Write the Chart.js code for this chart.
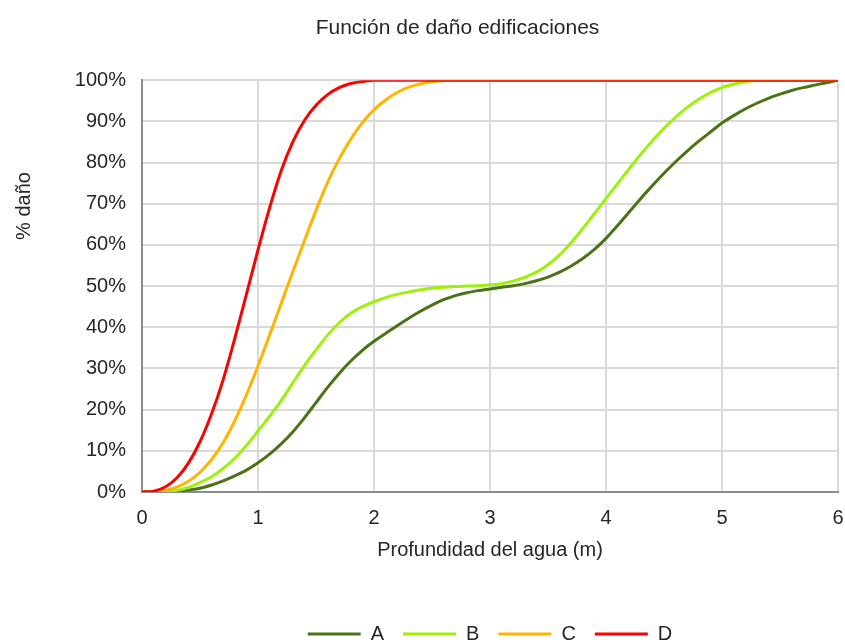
<!DOCTYPE html>
<html>
<head>
<meta charset="utf-8">
<script src="https://cdn.jsdelivr.net/npm/chart.js@4.4.0/dist/chart.umd.min.js"></script>
<style>
html, body { margin: 0; padding: 0; background: #fff; }
</style>
</head>
<body>
<canvas id="myChart" width="845" height="642"></canvas>
<script>
// profundidad (m), every 0.1 m
const depth = [
	0, 0.1, 0.2, 0.3, 0.4, 0.5, 0.6, 0.7, 0.8, 0.9,
	1, 1.1, 1.2, 1.3, 1.4, 1.5, 1.6, 1.7, 1.8, 1.9,
	2, 2.1, 2.2, 2.3, 2.4, 2.5, 2.6, 2.7, 2.8, 2.9,
	3, 3.1, 3.2, 3.3, 3.4, 3.5, 3.6, 3.7, 3.8, 3.9,
	4, 4.1, 4.2, 4.3, 4.4, 4.5, 4.6, 4.7, 4.8, 4.9,
	5, 5.1, 5.2, 5.3, 5.4, 5.5, 5.6, 5.7, 5.8, 5.9,
	6,
];

// % daño
const curveA = [
	0, 0, 0, 0.2, 0.5, 0.9, 1.7, 2.7, 3.9, 5.3,
	7.1, 9.2, 11.7, 14.6, 18, 21.7, 25.4, 28.8, 31.8, 34.4,
	36.6, 38.5, 40.4, 42.2, 43.9, 45.4, 46.7, 47.7, 48.4, 48.9,
	49.3, 49.7, 50.1, 50.6, 51.3, 52.2, 53.4, 54.9, 56.7, 58.9,
	61.6, 64.7, 68, 71.3, 74.4, 77.4, 80.2, 82.8, 85.2, 87.4,
	89.6, 91.4, 93, 94.4, 95.6, 96.6, 97.5, 98.2, 98.8, 99.4,
	100,
];
const curveB = [
	0, 0, 0.1, 0.4, 1.1, 2.3, 3.7, 5.7, 8.2, 11.3,
	14.8, 18.4, 22.2, 26.5, 30.7, 34.5, 38.1, 41.1, 43.4, 45,
	46.2, 47.2, 48, 48.6, 49.1, 49.5, 49.7, 49.9, 50, 50.1,
	50.3, 50.6, 51.2, 52.1, 53.4, 55.2, 57.6, 60.6, 64, 67.6,
	71.2, 74.9, 78.5, 82, 85.3, 88.3, 91, 93.4, 95.4, 97,
	98.2, 99, 99.6, 99.9, 100, 100, 100, 100, 100, 100,
	100,
];
const curveC = [
	0, 0, 0.4, 1.2, 2.6, 4.8, 7.9, 12, 17.3, 23.6,
	30.6, 38.1, 45.8, 53.5, 61, 68.4, 75.2, 80.9, 85.7, 89.7,
	92.8, 95.2, 97, 98.3, 99.1, 99.6, 99.9, 100, 100, 100,
	100, 100, 100, 100, 100, 100, 100, 100, 100, 100,
	100, 100, 100, 100, 100, 100, 100, 100, 100, 100,
	100, 100, 100, 100, 100, 100, 100, 100, 100, 100,
	100,
];
const curveD = [
	0, 0.2, 1.2, 3.4, 7, 12.2, 19, 27.3, 37.3, 48,
	58.8, 69, 78, 85, 90.2, 93.9, 96.5, 98.2, 99.2, 99.7,
	100, 100, 100, 100, 100, 100, 100, 100, 100, 100,
	100, 100, 100, 100, 100, 100, 100, 100, 100, 100,
	100, 100, 100, 100, 100, 100, 100, 100, 100, 100,
	100, 100, 100, 100, 100, 100, 100, 100, 100, 100,
	100,
];

const seriesNames = ["A", "B", "C", "D"];
const seriesColors = ["#4a7318", "#9cf20a", "#ffb400", "#ff0000"];
const seriesData = [curveA, curveB, curveC, curveD];

const font = '"Liberation Sans", Arial, sans-serif';
const textColor = "#262626";

const datasets = seriesData.map((vals, i) => ({
	label: seriesNames[i],
	data: depth.map((d, j) => ({ x: d, y: vals[j] })),
	borderColor: seriesColors[i],
	backgroundColor: seriesColors[i],
	borderWidth: 3,
	pointRadius: 0,
	cubicInterpolationMode: "monotone",
	order: 4 - i,
}));

// y axis title sits above the middle in the original
const yTitle = {
	id: "yTitle",
	afterDraw(chart) {
		const ctx = chart.ctx;
		ctx.save();
		ctx.translate(24, 206);
		ctx.rotate(-Math.PI / 2);
		ctx.font = "20px " + font;
		ctx.fillStyle = textColor;
		ctx.textAlign = "center";
		ctx.textBaseline = "middle";
		ctx.fillText("% daño", 0, 0);
		ctx.restore();
	},
};

const config = {
	type: "line",
	data: { datasets },
	options: {
		responsive: false,
		animation: false,
		layout: { padding: { left: 70, right: 0, top: 0, bottom: -12 } },
		plugins: {
			title: {
				display: true,
				text: "Función de daño edificaciones",
				color: textColor,
				font: { family: font, size: 21, weight: "normal" },
				padding: { top: 16, bottom: 39 },
			},
			legend: {
				position: "bottom",
				fullSize: false,
				labels: {
					usePointStyle: true,
					pointStyle: "line",
					pointStyleWidth: 53,
					padding: 19,
					color: textColor,
					font: { family: font, size: 20 },
					sort: (a, b) => a.datasetIndex - b.datasetIndex,
				},
			},
			tooltip: { enabled: false },
		},
		scales: {
			x: {
				type: "linear",
				min: 0,
				max: 6,
				afterFit: (scale) => { scale.paddingRight = 7; },
				ticks: {
					stepSize: 1,
					padding: 14,
					color: textColor,
					font: { family: font, size: 20 },
				},
				grid: { color: "#d9d9d9", lineWidth: 2, drawTicks: false },
				border: { color: "#8c8c8c", width: 2 },
				title: {
					display: true,
					text: "Profundidad del agua (m)",
					color: textColor,
					font: { family: font, size: 20 },
					padding: { top: -6, bottom: 43 },
				},
			},
			y: {
				min: 0,
				max: 100,
				afterFit: (scale) => { scale.width = 72; },
				ticks: {
					stepSize: 10,
					padding: 16,
					color: textColor,
					font: { family: font, size: 20 },
					callback: (v) => v + "%",
				},
				grid: { color: "#d9d9d9", lineWidth: 2, drawTicks: false },
				border: { color: "#8c8c8c", width: 2 },
			},
		},
	},
	plugins: [yTitle],
};

var myChart = new Chart(document.getElementById("myChart"), config);
</script>
</body>
</html>
